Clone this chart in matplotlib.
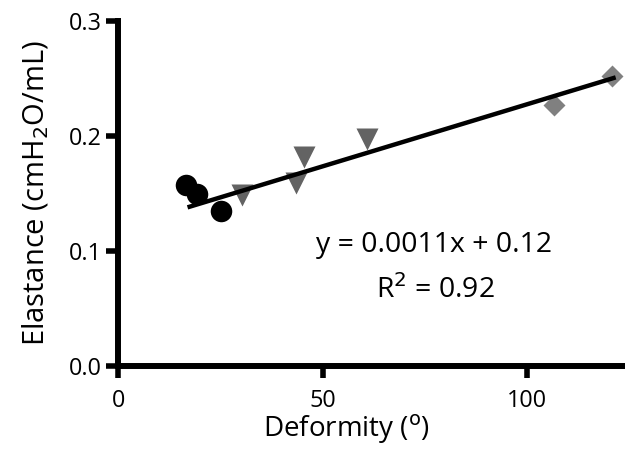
import matplotlib.pyplot as plt
import numpy as np

plt.rcParams['font.family'] = ['Open Sans', 'DejaVu Sans']

# group 1 - circles
circ_x = [16.5, 19.2, 25.1]
circ_y = [0.157, 0.150, 0.135]
# group 2 - down triangles
tri_x = [30.2, 43.6, 45.4, 60.8]
tri_y = [0.149, 0.159, 0.182, 0.197]
# group 3 - diamonds
dia_x = [106.6, 120.8]
dia_y = [0.227, 0.252]

fit_slope = 0.00108
fit_icpt = 0.1196

fig = plt.figure(figsize=(6.25, 4.5), dpi=100)
ax = fig.add_axes([0.189, 0.187, 0.811, 0.766])

all_x = circ_x + tri_x + dia_x
lx = np.array([min(all_x) + 1.0, max(all_x) + 0.4])
ax.plot(lx, fit_icpt + fit_slope * lx, color='black', lw=3.2, zorder=3)

ax.plot(circ_x, circ_y, 'o', color='black', ms=15.5, mec='none', zorder=2)
ax.plot(tri_x, tri_y, 'v', color='#636363', ms=16.5, mec='none', zorder=2)
ax.plot(dia_x, dia_y, 'D', color='#808080', ms=11, mec='none', zorder=2)

ax.set_xlim(0, 124)
ax.set_ylim(0, 0.3)
ax.set_xticks([0, 50, 100])
ax.set_yticks([0.0, 0.1, 0.2, 0.3])
ax.set_yticklabels(['0.0', '0.1', '0.2', '0.3'])

for s in ['top', 'right']:
    ax.spines[s].set_visible(False)
for s in ['left', 'bottom']:
    ax.spines[s].set_linewidth(4.3)
ax.tick_params(width=4, length=8.5, labelsize=16.8, pad=3)
ax.tick_params(axis='x', pad=8)

ax.set_xlabel('Deformity ($^{\\mathrm{o}}$)', fontsize=20)
ax.xaxis.set_label_coords(0.45, -0.135)
ax.set_ylabel('Elastance (cmH$_2$O/mL)', fontsize=21, labelpad=13)

ax.text(0.623, 0.33, 'y = 0.0011x + 0.12', transform=ax.transAxes,
        ha='center', va='baseline', fontsize=20.4)
ax.text(0.626, 0.197, 'R$^2$ = 0.92', transform=ax.transAxes,
        ha='center', va='baseline', fontsize=20.4)

plt.savefig('out.png', dpi=100)
